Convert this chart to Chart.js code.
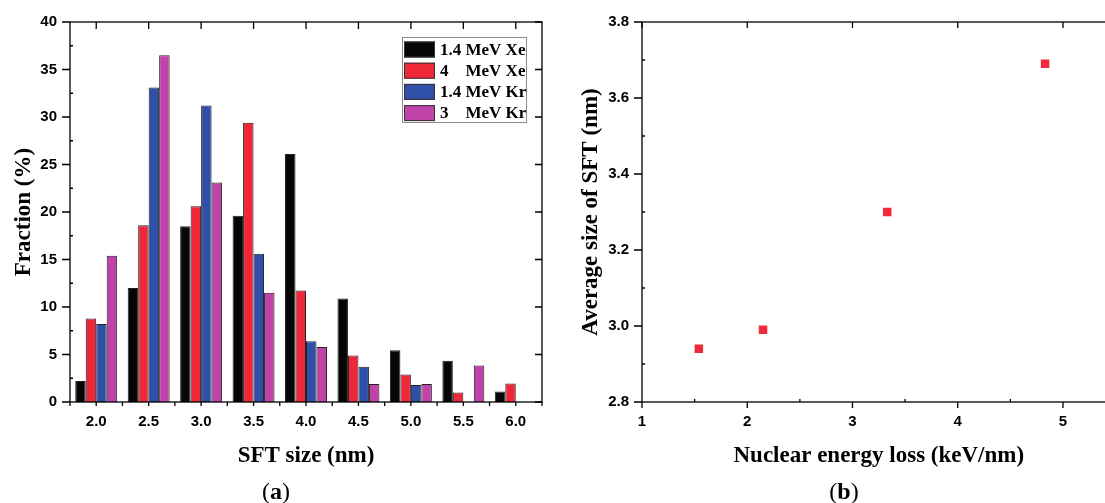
<!DOCTYPE html>
<html><head><meta charset="utf-8">
<script src="https://cdn.jsdelivr.net/npm/chart.js@4"></script>
<style>
html,body{margin:0;padding:0;background:#fff;overflow:hidden;width:1105px;height:503px;position:relative}
canvas{position:absolute;top:0}
#c1{left:0}
#c2{left:560px}
.lab{position:absolute;font-family:'Liberation Serif','Times New Roman',serif;font-size:24px;line-height:24px;transform:translateX(-50%);color:#000;white-space:nowrap}
</style></head><body>
<canvas id="c1" width="560" height="503"></canvas>
<canvas id="c2" width="565" height="503"></canvas>
<div class="lab" style="left:276px;top:479px">(<b>a</b>)</div>
<div class="lab" style="left:844px;top:479px">(<b>b</b>)</div>
<script>
// ---- data: panel (a) ----
const sizeLabels = ["2.0","2.5","3.0","3.5","4.0","4.5","5.0","5.5","6.0"];
const seriesNames = ["1.4 MeV Xe","4    MeV Xe","1.4 MeV Kr","3    MeV Kr"];
const xe14 = [2.2, 12.0, 18.5, 19.6, 26.1, 10.9, 5.45, 4.35, 1.1];
const xe4  = [8.8, 18.6, 20.6, 29.4, 11.75, 4.9, 2.9, 1.0, 1.95];
const kr14 = [8.2, 33.1, 31.2, 15.6, 6.4, 3.7, 1.8, null, null];
const kr3  = [15.4, 36.5, 23.1, 11.5, 5.8, 1.9, 1.9, 3.85, null];
// ---- data: panel (b) ----
const nuclearLoss = [1.54, 2.15, 3.33, 4.83];
const avgSize     = [2.94, 2.99, 3.30, 3.69];

const colors = ["#060606","#ee2839","#2f4fa8","#c043a9"];
const SANS = "'Liberation Sans', Arial, sans-serif";
const SERIF = "'Liberation Serif', 'Times New Roman', serif";

function majorMinor(scale){
  if (scale.type === 'category') {
    const n = scale.getLabels().length;
    const maj = [];
    for (let i=0;i<n;i++) maj.push(scale.getPixelForValue(i));
    const half = n>1 ? (maj[1]-maj[0])/2 : 0;
    const min = maj.map(p=>p-half); min.push(maj[n-1]+half);
    return {maj, min};
  }
  const vals = scale.ticks.map(t=>t.value);
  const maj = vals.map(v=>scale.getPixelForValue(v));
  const step = vals[1]-vals[0];
  const min = [];
  vals.forEach(v=>{ const m=v+step/2; if (m <= scale.max+1e-9) min.push(scale.getPixelForValue(m)); });
  return {maj, min};
}

const frameTicks = {
  id:'frameTicks',
  afterDraw(chart, args, o){
    const {ctx, chartArea:a} = chart;
    const xs = majorMinor(chart.scales.x), ys = majorMinor(chart.scales.y);
    ctx.save();
    ctx.strokeStyle='#000'; ctx.lineWidth=1.3;
    ctx.strokeRect(a.left, a.top, a.right-a.left, a.bottom-a.top);
    ctx.beginPath();
    const hx = (arr, y, len, dir) => { if(!len) return; arr.forEach(p=>{ctx.moveTo(p,y); ctx.lineTo(p,y+dir*len);}); };
    const vy = (arr, x, len, dir) => { if(!len) return; arr.forEach(p=>{ctx.moveTo(x,p); ctx.lineTo(x+dir*len,p);}); };
    hx(xs.maj, a.bottom, o.bottom[0], 1); hx(xs.min, a.bottom, o.bottom[1], 1);
    hx(xs.maj, a.top, o.top[0], -1);     hx(xs.min, a.top, o.top[1], -1);
    vy(ys.maj, a.left, o.left[0], -1);   vy(ys.min, a.left, o.left[1], -1);
    vy(ys.maj, a.right, o.right[0], 1);  vy(ys.min, a.right, o.right[1], 1);
    ctx.stroke();
    ctx.restore();
  }
};

const boxLegend = {
  id:'boxLegend',
  afterDraw(chart, args, o){
    if (!o || !o.show) return;
    const ctx = chart.ctx;
    ctx.save();
    ctx.fillStyle='#fff'; ctx.fillRect(o.x, o.y, o.w, o.h);
    ctx.strokeStyle='#8c8c8c'; ctx.lineWidth=1; ctx.strokeRect(o.x+0.5, o.y+0.5, o.w, o.h);
    ctx.font = "bold 17px " + SERIF;
    ctx.textBaseline='middle'; ctx.textAlign='left';
    chart.data.datasets.forEach((ds,i)=>{
      const cy = o.first + i*o.pitch;
      ctx.fillStyle = ds.backgroundColor;
      ctx.fillRect(o.sx, cy-o.sh/2, o.sw, o.sh);
      ctx.strokeStyle='#333'; ctx.strokeRect(o.sx+0.5, cy-o.sh/2+0.5, o.sw-1, o.sh-1);
      ctx.fillStyle='#000';
      ctx.fillText(ds.label, o.tx, cy+1);
    });
    ctx.restore();
  }
};

const tickFont = {family:SANS, weight:'bold', size:15};
const titleFont = {family:SERIF, weight:'bold', size:23};

// ---- chart (a) ----
const barSets = [xe14, xe4, kr14, kr3].map((d,i)=>({
  label: seriesNames[i], data: d, backgroundColor: colors[i],
  borderColor:'#222', borderWidth:1
}));
new Chart(document.getElementById('c1'), {
  type:'bar',
  data:{labels:sizeLabels, datasets:barSets},
  plugins:[frameTicks, boxLegend],
  options:{
    responsive:false, animation:false, devicePixelRatio:1, events:[],
    layout:{padding:{left:0, top:21, right:18, bottom:31}},
    datasets:{bar:{categoryPercentage:0.8, barPercentage:1.0}},
    plugins:{
      legend:{display:false}, tooltip:{enabled:false},
      frameTicks:{bottom:[4,4], top:[-7,0], left:[8,-3], right:[-7,0]},
      boxLegend:{show:true, x:402, y:37, w:124, h:85, sx:404, sw:31, sh:16, first:49.5, pitch:21.2, tx:440}
    },
    scales:{
      x:{
        grid:{display:false, drawTicks:false}, border:{display:false},
        ticks:{font:tickFont, color:'#000', padding:11, maxRotation:0, autoSkip:false},
        title:{display:true, text:'SFT size (nm)', font:titleFont, color:'#000', padding:{top:0,bottom:2}},
        afterFit(s){ s.height = 70; }
      },
      y:{
        min:0, max:40,
        grid:{display:false, drawTicks:false}, border:{display:false},
        ticks:{stepSize:5, font:tickFont, color:'#000', padding:13},
        title:{display:true, text:'Fraction (%)', font:titleFont, color:'#000', padding:{top:10,bottom:0}},
        afterFit(s){ s.width = 70; }
      }
    }
  }
});

// ---- chart (b) ----
new Chart(document.getElementById('c2'), {
  type:'scatter',
  data:{datasets:[{
    label:'Average size of SFT',
    data: nuclearLoss.map((x,i)=>({x, y:avgSize[i]})),
    pointStyle:'rect', pointRadius:6, backgroundColor:'#ee2a3c', borderWidth:0, showLine:false
  }]},
  plugins:[frameTicks],
  options:{
    responsive:false, animation:false, devicePixelRatio:1, events:[],
    layout:{padding:{left:0, top:21, right:9.4, bottom:31}},
    plugins:{
      legend:{display:false}, tooltip:{enabled:false},
      frameTicks:{bottom:[6,-3], top:[-6,0], left:[8,-3], right:[-7,0]}
    },
    scales:{
      x:{
        type:'linear', min:1, max:5.5,
        grid:{display:false, drawTicks:false}, border:{display:false},
        ticks:{stepSize:1, font:tickFont, color:'#000', padding:11, maxRotation:0},
        afterBuildTicks(s){ s.ticks = s.ticks.filter(t=>Math.abs(t.value-Math.round(t.value))<1e-6); },
        title:{display:true, text:'Nuclear energy loss (keV/nm)', font:titleFont, color:'#000', padding:{top:0,bottom:2}},
        afterFit(s){ s.height = 70; }
      },
      y:{
        min:2.8, max:3.8,
        grid:{display:false, drawTicks:false}, border:{display:false},
        ticks:{stepSize:0.2, font:tickFont, color:'#000', padding:13, callback:v=>Number(v).toFixed(1)},
        title:{display:true, text:'Average size of SFT (nm)', font:titleFont, color:'#000', padding:{top:17.5,bottom:0}},
        afterFit(s){ s.width = 82; }
      }
    }
  }
});
</script>
</body></html>
